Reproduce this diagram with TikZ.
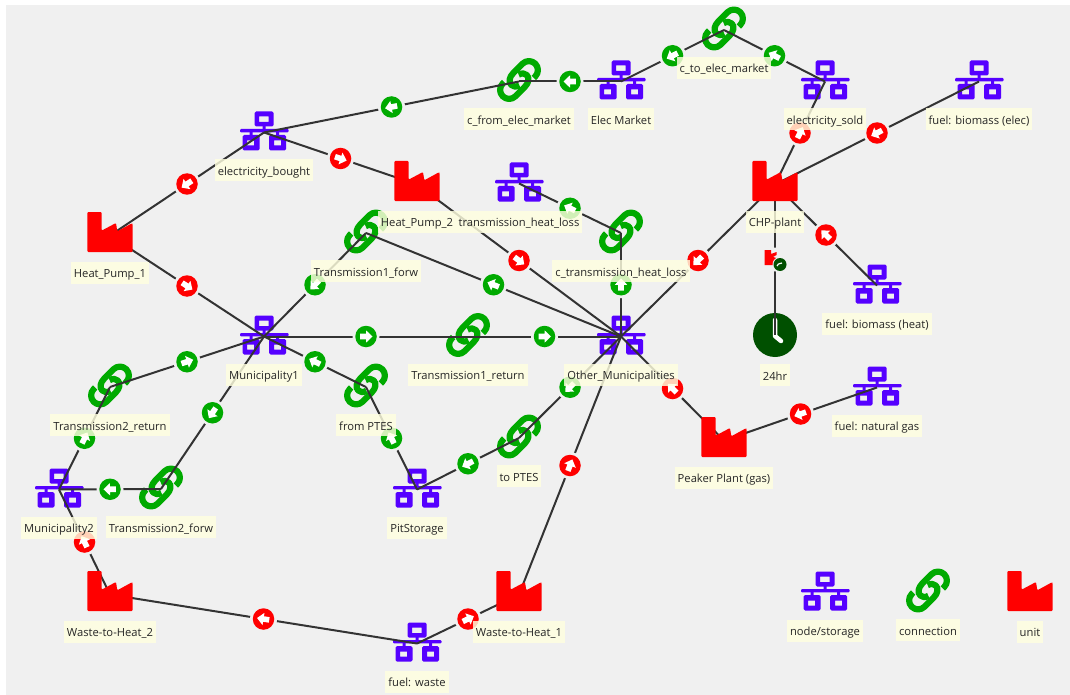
\documentclass[tikz,border=0pt]{standalone}
\usepackage{fontspec}
\setmainfont{Open Sans}
\usetikzlibrary{calc}
\definecolor{bgc}{HTML}{F0F0F0}
\definecolor{hubc}{HTML}{5500FF}
\definecolor{linkc}{HTML}{00AA00}
\definecolor{unitc}{HTML}{FF0000}
\definecolor{labc}{HTML}{FFFFE0}
\definecolor{wirec}{HTML}{333333}
\definecolor{clockc}{HTML}{005000}
\pgfdeclarelayer{icons}\pgfdeclarelayer{wires}\pgfdeclarelayer{halos}
\pgfdeclarelayer{units}\pgfdeclarelayer{dots}\pgfdeclarelayer{labels}
\pgfsetlayers{main,icons,wires,halos,units,dots,labels}
\tikzset{
  wire/.style={draw=wirec,line width=2pt},
  lab/.style={fill=labc,fill opacity=.82,text opacity=1,text=black!85,inner xsep=3pt,inner ysep=0pt,
    minimum height=22pt,text height=10.5pt,text depth=.5pt,font=\fontsize{11.2}{12}\selectfont},
  flowdot/.style={circle,inner sep=0pt,minimum size=21.5pt},
  halodot/.style={circle,fill=bgc,inner sep=0pt,minimum size=27pt},
  hubicon/.pic={
    \begin{scope}[shift={(0,-1.5)}]
    \fill[hubc,even odd rule,rounded corners=1.5pt] (-9.5,-19.5) rectangle (9.5,-4.5) (-5,-14.5) [sharp corners] rectangle (4.5,-9);
    \fill[hubc,even odd rule,rounded corners=1.5pt] (-21.5,4) rectangle (-4.5,19.5) (-16.8,9.5) [sharp corners] rectangle (-9.8,14.5);
    \fill[hubc,even odd rule,rounded corners=1.5pt] (5,4) rectangle (22,19.5) (10,9.5) [sharp corners] rectangle (17,14.5);
    \fill[hubc,rounded corners=1pt] (-24,-2) rectangle (24.5,1.3);
    \fill[hubc] (-1.5,-5) rectangle (1.5,0) (-14.5,0) rectangle (-11.5,5) (12,0) rectangle (15,5);
    \end{scope}},
  linkicon/.pic={
    \begin{scope}[shift={(0,-1.5)},rotate=45]
    \draw[linkc,line width=6.2pt,line cap=butt,line join=round]
      (12,9) -- (14,9) .. controls (19,9) and (23,5) .. (23,0)
      .. controls (23,-5) and (19,-9) .. (14,-9) -- (1,-9)
      .. controls (-5,-9) and (-9,-6) .. (-9,-2) .. controls (-9,1) and (-7,3) .. (-3.5,4);
    \draw[linkc,line width=6.2pt,line cap=butt,line join=round]
      (-12,-9) -- (-14,-9) .. controls (-19,-9) and (-23,-5) .. (-23,0)
      .. controls (-23,5) and (-19,9) .. (-14,9) -- (-1,9)
      .. controls (5,9) and (9,6) .. (9,2) .. controls (9,-1) and (7,-3) .. (3.5,-4);
    \end{scope}},
  uniticon/.pic={
    \fill[unitc,rounded corners=1pt]
      (-22.7,-23.5) -- (-8.3,-23.5) -- (-8.3,-4.9) -- (6,-12.5) -- (7.3,-4.2) -- (21.7,-12.1) -- (22.7,-11.5) -- (22.7,16.5) -- (-22.7,16.5) -- cycle;},
}
\newcommand\hubn[4]{\coordinate (#1) at (#2,#3);
  \begin{pgfonlayer}{icons}\pic at (#1) {hubicon};\end{pgfonlayer}
  \begin{pgfonlayer}{labels}\node[lab] (#1-lab) at ($(#1)+(0,38)$) {#4};\end{pgfonlayer}}
\newcommand\linkn[4]{\coordinate (#1) at (#2,#3);
  \begin{pgfonlayer}{icons}\pic at (#1) {linkicon};\end{pgfonlayer}
  \begin{pgfonlayer}{labels}\node[lab] (#1-lab) at ($(#1)+(0,38)$) {#4};\end{pgfonlayer}}
\newcommand\unitn[4]{\coordinate (#1) at (#2,#3);
  \begin{pgfonlayer}{units}\pic at (#1) {uniticon};\end{pgfonlayer}
  \begin{pgfonlayer}{labels}\node[lab] (#1-lab) at ($(#1)+(0,37)$) {#4};\end{pgfonlayer}}
% \flow{from}{to}{colour}: straight wire with a round flow marker at its middle
\newcommand\flow[3]{%
  \begin{pgfonlayer}{wires}\draw[wire] (#1) -- (#2);\end{pgfonlayer}
  \pgfmathanglebetweenpoints{\pgfpointanchor{#1}{center}}{\pgfpointanchor{#2}{center}}\let\flowang\pgfmathresult
  \coordinate (#1-#2-m) at ($(#1)!.5!(#2)$);
  \begin{pgfonlayer}{halos}\node[halodot] at (#1-#2-m) {};\end{pgfonlayer}
  \begin{pgfonlayer}{dots}\node[flowdot,fill=#3] (#1-#2-dot) at (#1-#2-m) {};
  \fill[white,line join=round,shift={(#1-#2-m)},rotate=\flowang]
    (6.5,0) -- (0,-6.2) -- (0,-2.8) -- (-5.8,-2.8) -- (-5.8,2.8) -- (0,2.8) -- (0,6.2) -- cycle;
  \end{pgfonlayer}}
\begin{document}
\begin{tikzpicture}[x=1pt,y=-1pt]
\useasboundingbox (0,0) rectangle (1070,695);
\fill[bgc] (6,5) rectangle (1070,695);
% elements
\hubn{ebought}{264}{132.5}{electricity\_bought}
\linkn{cfrom}{519}{81.5}{c\_from\_elec\_market}
\hubn{emarket}{621}{81.5}{Elec Market}
\linkn{cto}{724}{30}{c\_to\_elec\_market}
\hubn{esold}{825}{81.5}{electricity\_sold}
\hubn{fbioe}{979}{81.5}{fuel: biomass (elec)}
\hubn{thl}{519}{183.5}{transmission\_heat\_loss}
\unitn{hptwo}{417}{184.5}{Heat\_Pump\_2}
\unitn{hpone}{110}{235.5}{Heat\_Pump\_1}
\unitn{chp}{775}{184.5}{CHP-plant}
\linkn{tfwd}{366}{233}{Transmission1\_forw}
\linkn{cthl}{621}{233}{c\_transmission\_heat\_loss}
\hubn{fbioh}{877}{285.5}{fuel: biomass (heat)}
\hubn{muni}{264}{336.5}{Municipality1}
\linkn{tret}{468}{336.5}{Transmission1\_return}
\hubn{other}{621}{336.5}{Other\_Municipalities}
\linkn{ttworet}{110}{387}{Transmission2\_return}
\linkn{fptes}{366}{387}{from PTES}
\hubn{fgas}{877}{387.5}{fuel: natural gas}
\unitn{peak}{724}{440.5}{Peaker Plant (gas)}
\linkn{tptes}{519}{438}{to PTES}
\hubn{munitwo}{59}{489.5}{Municipality2}
\linkn{ttwofwd}{161}{489}{Transmission2\_forw}
\hubn{pit}{417}{489.5}{PitStorage}
\unitn{wtwo}{110}{594.5}{Waste-to-Heat\_2}
\unitn{wone}{519}{594.5}{Waste-to-Heat\_1}
\hubn{fwaste}{417}{643.5}{fuel: waste}
\hubn{lhub}{825}{592.5}{node/storage}
\linkn{llink}{928}{592}{connection}
\unitn{lunit}{1030}{594.5}{unit}
% clock
\coordinate (clock) at (775,335);
\begin{pgfonlayer}{icons}
  \fill[clockc] (clock) circle[radius=22];
  \draw[white,line width=4.5pt,line join=round,line cap=round] (775,320) -- (775,336) -- (781,341);
\end{pgfonlayer}
\begin{pgfonlayer}{labels}\node[lab] (clock-lab) at (775,375) {24hr};\end{pgfonlayer}
% flows
\flow{cfrom}{ebought}{linkc}
\flow{emarket}{cfrom}{linkc}
\flow{cto}{emarket}{linkc}
\flow{esold}{cto}{linkc}
\flow{ebought}{hptwo}{unitc}
\flow{ebought}{hpone}{unitc}
\flow{hpone}{muni}{unitc}
\flow{hptwo}{other}{unitc}
\flow{chp}{esold}{unitc}
\flow{fbioe}{chp}{unitc}
\flow{chp}{other}{unitc}
\flow{fbioh}{chp}{unitc}
\flow{cthl}{thl}{linkc}
\flow{other}{cthl}{linkc}
\flow{other}{tfwd}{linkc}
\flow{tfwd}{muni}{linkc}
\flow{muni}{tret}{linkc}
\flow{tret}{other}{linkc}
\flow{fptes}{muni}{linkc}
\flow{pit}{fptes}{linkc}
\flow{tptes}{pit}{linkc}
\flow{other}{tptes}{linkc}
\flow{peak}{other}{unitc}
\flow{fgas}{peak}{unitc}
\flow{wone}{other}{unitc}
\flow{fwaste}{wone}{unitc}
\flow{fwaste}{wtwo}{unitc}
\flow{wtwo}{munitwo}{unitc}
\flow{munitwo}{ttworet}{linkc}
\flow{ttworet}{muni}{linkc}
\flow{muni}{ttwofwd}{linkc}
\flow{ttwofwd}{munitwo}{linkc}
% CHP to clock, with the small markers
\begin{pgfonlayer}{wires}\draw[wire] (chp) -- (clock);\end{pgfonlayer}
\begin{pgfonlayer}{halos}\node[halodot,minimum size=24pt] at (775,259.5) {};\end{pgfonlayer}
\begin{pgfonlayer}{dots}
  \fill[unitc] (764.5,250) -- (771,250) -- (771,254) -- (776.5,252) -- (776.5,255) -- (773,257) -- (776.5,258) -- (776.5,265) -- (764.5,265) -- cycle;
  \fill[bgc] (780,264.5) circle[radius=7.5];
  \node[flowdot,minimum size=13pt,fill=clockc] (chpdot) at (780,264.5) {};
  \draw[white,line width=1.2pt] (777,266) .. controls (778,264) .. (782,263);
\end{pgfonlayer}
\end{tikzpicture}
\end{document}
